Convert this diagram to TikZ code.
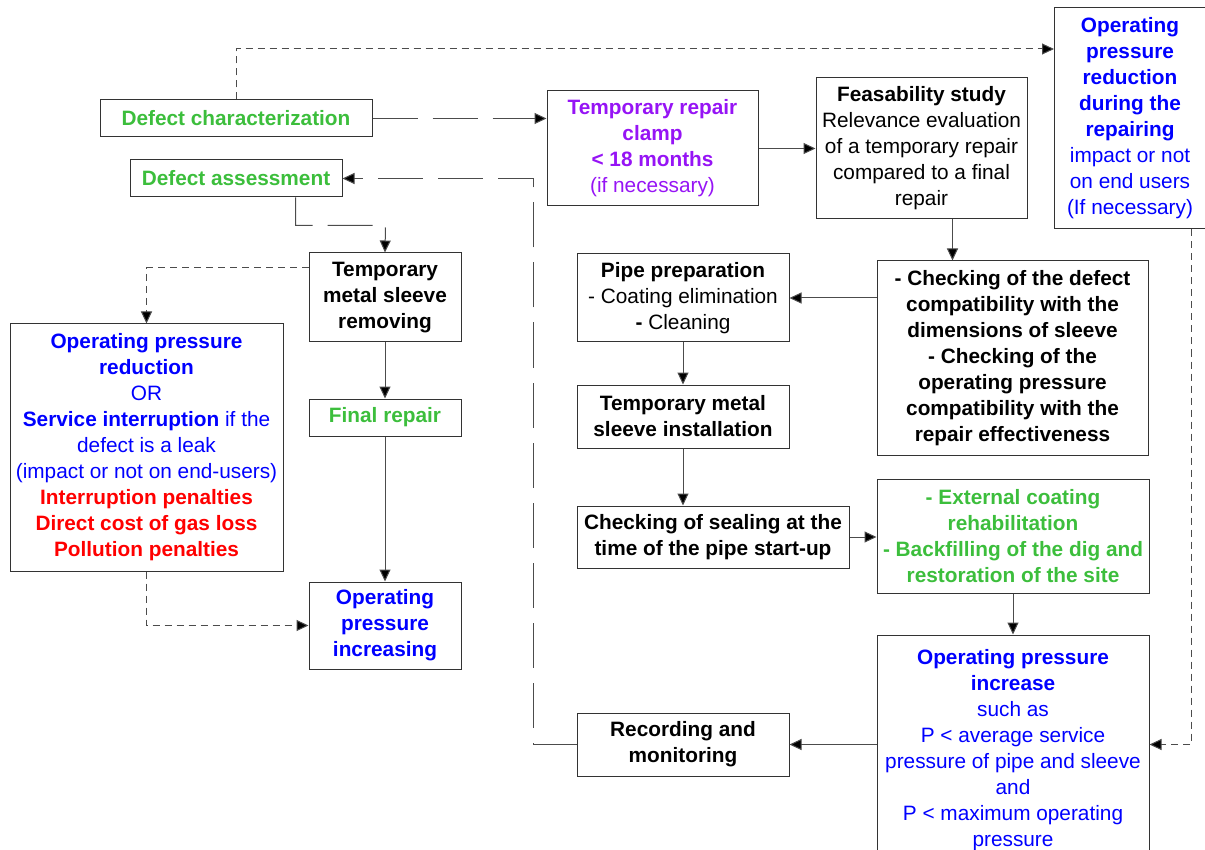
\documentclass[tikz,border=0pt]{standalone}
\usepackage{fontspec}
\setmainfont{Liberation Sans}
\usetikzlibrary{arrows.meta}
\definecolor{okgreen}{RGB}{60,190,60}
\definecolor{clampviolet}{RGB}{150,20,245}
\definecolor{infoblue}{RGB}{0,0,255}
\definecolor{costred}{RGB}{255,0,0}
\begin{document}
\begin{tikzpicture}[x=1pt,y=-1pt,
  box/.style={draw=black!80, line width=1pt, rectangle, inner sep=0pt, align=center,
    font=\fontsize{20.8}{26}\selectfont},
  link/.style={draw=black!70, line width=1pt, -{Triangle[length=12pt,width=11pt,fill=black]}},
  shortdash/.style={dash pattern=on 7pt off 5pt},
  longdash/.style={dash pattern=on 45pt off 15pt}]
\useasboundingbox (0,0) rectangle (1205,850);

% left column
\node[box, minimum width=272, minimum height=37, text=okgreen] (dchar) at (236,118.5)
  {\textbf{Defect characterization}};
\node[box, minimum width=212, minimum height=37, text=okgreen] (dassess) at (236,178.5)
  {\textbf{Defect assessment}};
\node[box, minimum width=273, minimum height=247, text=infoblue] (opred) at (146.5,447.5)
  {\textbf{Operating pressure}\\\textbf{reduction}\\OR\\\textbf{Service interruption} if the\\defect is a leak\\(impact or not on end-users)\\
   \textcolor{costred}{\textbf{Interruption penalties}}\\\textcolor{costred}{\textbf{Direct cost of gas loss}}\\\textcolor{costred}{\textbf{Pollution penalties}}};
\node[box, minimum width=152, minimum height=89] (tmsr) at (385,297.5)
  {\textbf{Temporary}\\\textbf{metal sleeve}\\\textbf{removing}};
\node[box, minimum width=152, minimum height=37, text=okgreen] (final) at (385,417.5)
  {\textbf{Final repair}};
\node[box, minimum width=152, minimum height=87, text=infoblue] (opincr) at (385,625.5)
  {\textbf{Operating}\\\textbf{pressure}\\\textbf{increasing}};

% middle and right columns
\node[box, minimum width=211, minimum height=115, text=clampviolet] (clamp) at (652.5,148.5)
  {\textbf{Temporary repair}\\\textbf{clamp}\\\textbf{< 18 months}\\(if necessary)};
\node[box, minimum width=211, minimum height=141] (feas) at (921.5,148.5)
  {\textbf{Feasability study}\\Relevance evaluation\\of a temporary repair\\compared to a final\\repair};
\node[box, minimum width=152, minimum height=221, text=infoblue] (oprr) at (1130,118.5)
  {\textbf{Operating}\\\textbf{pressure}\\\textbf{reduction}\\\textbf{during the}\\\textbf{repairing}\\impact or not\\on end users\\(If necessary)};
\node[box, minimum width=271, minimum height=194] (check) at (1012.5,358)
  {\textbf{- Checking of the defect}\\\textbf{compatibility with the}\\\textbf{dimensions of sleeve}\\\textbf{- Checking of the}\\\textbf{operating pressure}\\\textbf{compatibility with the}\\\textbf{repair effectiveness}};
\node[box, minimum width=212, minimum height=88] (pipe) at (683,298)
  {\textbf{Pipe preparation}\\- Coating elimination\\\textbf{-} Cleaning};
\node[box, minimum width=212, minimum height=63] (tmsi) at (683,416.5)
  {\textbf{Temporary metal}\\\textbf{sleeve installation}};
\node[box, minimum width=272, minimum height=62] (seal) at (713,537)
  {\textbf{Checking of sealing at the}\\\textbf{time of the pipe start-up}};
\node[box, minimum width=272, minimum height=114, text=okgreen] (extc) at (1013,536)
  {\textbf{- External coating}\\\textbf{rehabilitation}\\\textbf{- Backfilling of the dig and}\\\textbf{restoration of the site}};
\node[box, minimum width=272, minimum height=230, text=infoblue] (opinc) at (1013,750)
  {\textbf{Operating pressure}\\\textbf{increase}\\such as\\P < average service\\pressure of pipe and sleeve\\and\\P < maximum operating\\pressure};
\node[box, minimum width=212, minimum height=63] (rec) at (683,744.5)
  {\textbf{Recording and}\\\textbf{monitoring}};

% dashed connectors
\coordinate (trin) at (1054,49);
\draw[link, shortdash] (dchar.north) |- (trin);
\draw[link, longdash] (dchar.east) -- (dchar.east -| clamp.west);
\draw[link, longdash] (rec.west) -- ++(-43,0) |- (dassess.east);
\draw[link, longdash] ([xshift=-47pt]dassess.south east) |- ++(90,28) -- (tmsr.north);
\draw[link, shortdash] ([yshift=29.5pt]tmsr.west) -| (opred.north);
\draw[link, shortdash] (opred.south) |- (opincr.west);
\draw[link, shortdash] ([xshift=61pt]oprr.south) |- (opinc.east |- rec.east);

% solid connectors
\draw[link] (tmsr.south) -- (final.north);
\draw[link] (final.south) -- (opincr.north);
\draw[link] (clamp.east) -- (feas.west);
\draw[link] ([xshift=31pt]feas.south) -- ([xshift=31pt]feas.south |- check.north);
\draw[link] (check.west |- pipe.east) -- (pipe.east);
\draw[link] (pipe.south) -- (tmsi.north);
\draw[link] (tmsi.south) -- (tmsi.south |- seal.north);
\draw[link] (seal.east) -- (seal.east -| extc.west);
\draw[link] (extc.south) -- (opinc.north);
\draw[link] (opinc.west |- rec.east) -- (rec.east);
\end{tikzpicture}
\end{document}
